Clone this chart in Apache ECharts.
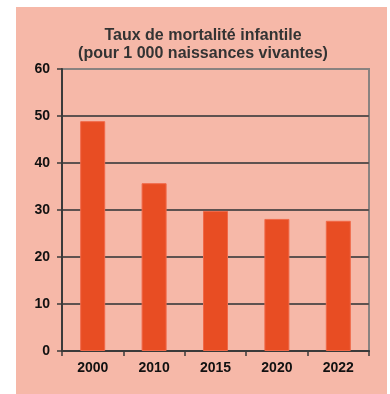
<!DOCTYPE html>
<html><head><meta charset="utf-8">
<script src="https://cdn.jsdelivr.net/npm/echarts@6/dist/echarts.min.js"></script>
<style>html,body{margin:0;padding:0;background:#fff}#c{width:390px;height:394px}</style>
</head><body><div id="c"></div>
<script>
const categories = ['2000','2010','2015','2020','2022'];
const values = [48.9, 35.7, 29.8, 28.1, 27.7];
const yTicks = [0,10,20,30,40,50,60];
const titleLines = ['Taux de mortalité infantile','(pour 1 000 naissances vivantes)'];

const chart = echarts.init(document.getElementById('c'), null, {renderer:'canvas'});
chart.setOption({
  backgroundColor:'#ffffff',
  animation:false,
  graphic:[{type:'rect',shape:{x:16,y:7,width:371,height:387},style:{fill:'#F6B8A8'},z:-10,silent:true}],
  title:{text:titleLines.join('\n'),left:198,top:22,textAlign:'center',
    textStyle:{fontFamily:'Liberation Sans, Arial',fontWeight:'bold',fontSize:16,color:'#333',lineHeight:18}},
  grid:{left:62,right:21,top:69,bottom:43,show:true,borderColor:'#8a8280',borderWidth:2,backgroundColor:'transparent'},
  xAxis:{type:'category',data:categories,
    axisLine:{lineStyle:{color:'#3a3a3a',width:2}},
    axisTick:{show:true,alignWithLabel:false,length:5,lineStyle:{color:'#3a3a3a',width:1.5}},
    axisLabel:{fontFamily:'Liberation Sans, Arial',fontWeight:'bold',fontSize:14,color:'#111',margin:10}},
  yAxis:{type:'value',min:yTicks[0],max:yTicks[yTicks.length-1],interval:10,
    axisLine:{show:true,lineStyle:{color:'#3a3a3a',width:2}},
    axisTick:{show:true,length:5,lineStyle:{color:'#3a3a3a',width:1.5}},
    axisLabel:{fontFamily:'Liberation Sans, Arial',fontWeight:'bold',fontSize:14,color:'#111',margin:12},
    splitLine:{show:true,lineStyle:{color:['#5e5250','#5e5250','#5e5250','#5e5250','#5e5250','#5e5250','#8a8280'],width:2}}},
  series:[{type:'bar',data:values,barWidth:25,
    itemStyle:{color:'#E84D23',borderColor:'#F06848',borderWidth:1}}]
});
</script></body></html>
